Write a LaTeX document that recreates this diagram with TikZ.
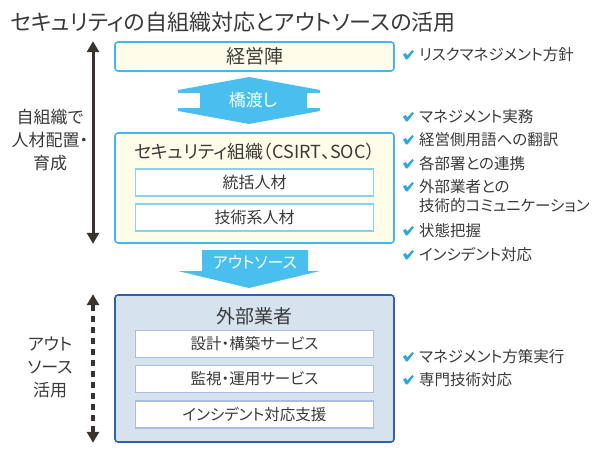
\documentclass[tikz,border=0pt]{standalone}
\usepackage{fontspec}
\setmainfont{Noto Sans CJK JP}[RawFeature=+palt]
\usetikzlibrary{arrows.meta,positioning}

\definecolor{inkgray}{HTML}{3A3A3A}
\definecolor{skyline}{HTML}{40B8EA}
\definecolor{skyfill}{HTML}{48BFEE}
\definecolor{creamfill}{HTML}{FFFDEA}
\definecolor{paleline}{HTML}{88D1F1}
\definecolor{navyline}{HTML}{2F62AC}
\definecolor{greyblue}{HTML}{D7E2EF}
\definecolor{mistline}{HTML}{A9BFDD}
\definecolor{darkarrow}{HTML}{3A3131}
\definecolor{tickblue}{HTML}{2EA7E0}

\tikzset{
    ownbox/.style={draw=skyline, fill=creamfill, line width=1.6pt, rounded corners=3pt, minimum width=279pt},
    vendorbox/.style={draw=navyline, fill=greyblue, line width=1.6pt, rounded corners=3pt, minimum width=279pt},
    ownrole/.style={draw=paleline, fill=white, line width=1.3pt, minimum width=238pt, minimum height=27pt, text=inkgray, font=\fontsize{16}{16}\selectfont},
    vendorrole/.style={draw=mistline, fill=white, line width=1.2pt, minimum width=238pt, minimum height=27pt, text=inkgray, font=\fontsize{15.5}{15.5}\selectfont},
    sidenote/.style={align=center, text=inkgray, font=\fontsize{17}{23}\selectfont},
    duty/.style={anchor=west, inner sep=0pt, text=inkgray, font=\fontsize{15.5}{15.5}\selectfont},
    blocklabel/.style={text=white, inner sep=0pt},
    bothway/.style={{Triangle[width=12pt,length=11pt]}-{Triangle[width=12pt,length=11pt]}, line width=3pt, draw=darkarrow},
    tick/.pic={\fill[tickblue] (0,3.6) -- (2.6,2) -- (4.2,4.4) -- (9.4,-1) -- (10.8,0.4) -- (4.6,8.4) -- (2.8,8.4) -- cycle;}
}

\begin{document}
\begin{tikzpicture}[x=1pt, y=-1pt]

    \useasboundingbox (0,0) rectangle (600,453);

    \node[anchor=west, inner sep=0pt, text=inkgray, font=\fontsize{22}{22}\selectfont] (title) at (10,22)
    {セキュリティの自組織対応とアウトソースの活用};

    \node[ownbox, minimum height=29pt, text=inkgray, font=\fontsize{19}{19}\selectfont] (board) at (254.5,56.5) {経営陣};

    \fill[skyfill] (249,77) -- (320,90) -- (320,93) -- (307,93) -- (307,108) -- (320,108) -- (320,111)
        -- (249,124) -- (178,111) -- (178,108) -- (200,108) -- (200,93) -- (178,93) -- (178,90) -- cycle;
    \node[blocklabel, font=\fontsize{17}{17}\selectfont] (bridge) at (253,100) {橋渡し};

    \node[ownbox, minimum height=110pt] (secorg) at (254.5,188) {};
    \node[text=inkgray, font=\fontsize{18}{18}\selectfont] (secname) at (254.5,152) {セキュリティ組織（CSIRT、SOC）};
    \node[ownrole] (lead) at (254.5,182.5) {統括人材};
    \node[ownrole] (tech) at (254.5,217.5) {技術系人材};

    \fill[skyfill] (202,250) -- (308,250) -- (308,271) -- (320,271) -- (249,288) -- (178,271) -- (202,271) -- cycle;
    \node[blocklabel, font=\fontsize{16}{16}\selectfont] (outsrc) at (255,262) {アウトソース};

    \node[vendorbox, minimum height=147pt] (vendor) at (254.5,368.5) {};
    \node[text=inkgray, font=\fontsize{19}{19}\selectfont] (vendname) at (254.5,316) {外部業者};
    \node[vendorrole] (build) at (254.5,344) {設計・構築サービス};
    \node[vendorrole] (watch) at (254.5,379) {監視・運用サービス};
    \node[vendorrole] (incsup) at (254.5,414.5) {インシデント対応支援};

    \coordinate (lx) at (93,0);
    \draw[bothway] (board.north -| lx) -- (secorg.south -| lx);
    \draw[bothway, line width=4pt, dash pattern=on 6.5pt off 4.5pt] (vendor.north -| lx) -- (vendor.south -| lx);

    \node[sidenote] (selfnote) at (50,140) {自組織で\\人材配置・\\育成};
    \node[sidenote] (outnote) at (50,367) {アウト\\ソース\\活用};

    \node[duty] (d1) at (419,55) {リスクマネジメント方針};
    \node[duty] (d2) at (419,117) {マネジメント実務};
    \node[duty] (d3) at (419,140) {経営側用語への翻訳};
    \node[duty] (d4) at (419,164) {各部署との連携};
    \node[duty] (d5) at (419,187) {外部業者との};
    \node[duty] (d5b) at (419,206) {技術的コミュニケーション};
    \node[duty] (d6) at (419,231) {状態把握};
    \node[duty] (d7) at (419,255) {インシデント対応};
    \node[duty] (d8) at (419,357) {マネジメント方策実行};
    \node[duty] (d9) at (419,380) {専門技術対応};

    \foreach \d in {d1,d2,d3,d4,d5,d6,d7,d8,d9}
        \pic at ([shift={(-16,-4)}]\d.west) {tick};

\end{tikzpicture}
\end{document}
